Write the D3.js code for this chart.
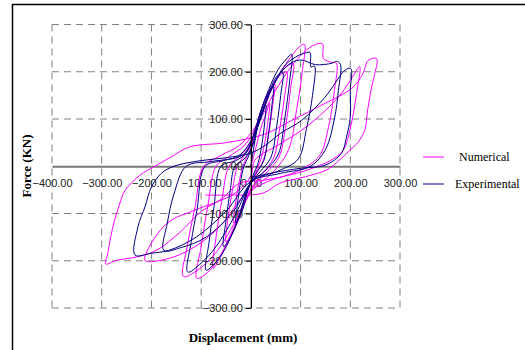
<!DOCTYPE html>
<html>
<head>
<meta charset="utf-8">
<script src="https://cdn.jsdelivr.net/npm/d3@7"></script>
<style>
  body { margin: 0; background: #fff; }
  svg { display: block; }
</style>
</head>
<body>
<div id="chart"></div>
<script>
// tick values
const xTicks = [-400, -300, -200, -100, 0, 100, 200, 300];
const yTicks = [-300, -200, -100, 0, 100, 200, 300];

// series: [displacement (mm), force (KN)]
const numerical = [
  [0, 0], [8, 30], [20, 80], [30, 110], [38, 133],
  [35, 100], [28, 50], [18, 8], [6, -20], [-6, -50], [-18, -85], [-35, -120],
  [-31, -80], [-24, -35], [-16, 0],
  [-6, 25], [5, 55], [18, 110], [32, 150], [48, 175],
  [44, 130], [36, 70], [26, 15], [10, -18], [-4, -45], [-18, -95], [-32, -130], [-50, -160],
  [-46, -110], [-37, -50], [-27, 0],
  [-12, 25], [2, 50], [18, 110], [38, 160], [56, 190], [72, 199],
  [68, 150], [58, 80], [46, 18], [24, -15], [0, -48], [-22, -105], [-48, -165], [-76, -216],
  [-70, -150], [-58, -70], [-44, 0],
  [-22, 22], [-3, 45], [18, 100], [42, 165], [66, 205], [85, 217],
  [80, 165], [70, 85], [57, 20], [30, -15], [2, -48], [-28, -115], [-62, -190], [-88, -226], [-109, -237],
  [-100, -170], [-86, -80], [-70, 0],
  [-42, 22], [-12, 45], [14, 90], [45, 170], [78, 228], [100, 255], [108, 258],
  [104, 205], [92, 120], [76, 35], [45, -12], [5, -48], [-30, -115], [-72, -185], [-110, -222], [-136, -233],
  [-128, -170], [-112, -85], [-95, 0],
  [-62, 22], [-22, 45], [12, 88], [55, 170], [98, 232], [128, 257], [144, 259], [146, 228], [162, 220], [172, 218],
  [168, 160], [156, 82], [138, 22], [95, -10], [35, -32], [-12, -60], [-60, -125], [-112, -170], [-165, -195], [-213, -199],
  [-187, -142], [-160, -114], [-113, -93], [-32, -57], [0, -20], [8, 13], [55, 45], [102, 76], [150, 118], [182, 154], [205, 190], [219, 211],
  [212, 150], [200, 80], [186, 34], [160, 12], [139, 2], [92, -15], [24, -30], [-22, -36],
  [-60, -70], [-99, -95], [-143, -140], [-190, -178], [-230, -192], [-270, -199], [-292, -207],
  [-288, -185], [-282, -150], [-274, -114], [-264, -80], [-253, -51], [-223, -19], [-193, 0],
  [-160, 20], [-123, 41], [-49, 50], [28, 68], [82, 97], [149, 133], [203, 165], [225, 195], [236, 224], [253, 228],
  [248, 190], [243, 168], [235, 120], [229, 76], [215, 50], [199, 34], [175, 10], [152, -8], [110, -22], [58, -36], [24, -57], [-42, -61], [-92, -61]
];

const experimental = [
  [0, 0], [6, 40], [14, 85], [22, 115], [30, 130],
  [28, 95], [22, 45], [14, 5], [4, -20], [-6, -50], [-16, -90], [-30, -120],
  [-27, -80], [-21, -35], [-14, 0],
  [-5, 20], [6, 55], [18, 110], [32, 150], [45, 170],
  [42, 125], [35, 65], [26, 12], [10, -15], [-6, -45], [-22, -100], [-38, -145], [-55, -170],
  [-50, -115], [-42, -55], [-32, 0],
  [-14, 15], [2, 40], [18, 100], [38, 160], [52, 190], [64, 199],
  [60, 150], [52, 85], [40, 18], [18, -12], [-2, -40], [-25, -110], [-52, -175], [-72, -205], [-90, -220],
  [-84, -160], [-74, -85], [-60, 0],
  [-30, 12], [-8, 30], [12, 90], [35, 160], [55, 205], [70, 225], [82, 237],
  [78, 180], [68, 100], [55, 25], [28, -10], [0, -35], [-30, -100], [-70, -170], [-100, -205], [-127, -224],
  [-120, -160], [-108, -90], [-92, 0],
  [-55, 12], [-15, 25], [10, 75], [40, 160], [70, 215], [95, 234], [110, 240], [119, 241], [121, 210], [128, 212],
  [124, 150], [112, 80], [95, 15], [55, -10], [5, -30], [-35, -95], [-90, -150], [-140, -172], [-175, -178],
  [-168, -120], [-155, -60], [-130, 0],
  [-80, 10], [-25, 22], [8, 70], [40, 160], [72, 212], [100, 225], [130, 215], [163, 218], [172, 222], [180, 216],
  [176, 160], [168, 100], [150, 35], [120, 0], [60, -15], [0, -32], [-50, -95], [-110, -150], [-165, -178], [-200, -184], [-233, -188],
  [-227, -128], [-213, -86], [-200, -44], [-180, -15], [-155, 0],
  [-100, 12], [-50, 18], [0, 28], [30, 45], [60, 70], [102, 97], [149, 146], [169, 175], [189, 203], [201, 207],
  [200, 160], [200, 104], [192, 60], [182, 27], [149, 2], [102, -4], [38, -15], [-2, -25]
];

const legendNames = ["Numerical", "Experimental"];
const colors = ["#ff00ff", "#000080"];

const W = 525, H = 350;
const svg = d3.select("#chart").append("svg")
  .attr("width", W).attr("height", H)
  .style("background", "#fff");

const xScale = d3.scaleLinear().domain([-400, 300]).range([52, 400]);
const yScale = d3.scaleLinear().domain([-300, 300]).range([308, 24.5]);

// outer frame (cut off on right and bottom like the source)
svg.append("path")
  .attr("d", `M12.5,${H}V4.5H${W}`)
  .attr("fill", "none").attr("stroke", "#000").attr("stroke-width", 1.5);

// dashed grid
const grid = svg.append("g").attr("stroke", "#808080").attr("stroke-width", 1)
  .attr("stroke-dasharray", "7,5");
grid.selectAll(".gx").data(xTicks.filter(d => d !== 0)).join("line")
  .attr("x1", d => xScale(d)).attr("x2", d => xScale(d))
  .attr("y1", yScale(300)).attr("y2", yScale(-300));
grid.selectAll(".gy").data(yTicks.filter(d => d !== 0)).join("line")
  .attr("y1", d => yScale(d)).attr("y2", d => yScale(d))
  .attr("x1", xScale(-400)).attr("x2", xScale(300));

// x axis through zero
const xAxis = svg.append("g")
  .attr("transform", `translate(0,${yScale(0)})`)
  .call(d3.axisBottom(xScale).tickValues(xTicks).tickFormat(d3.format(".2f"))
    .tickSize(0).tickPadding(13).tickSizeOuter(0));
xAxis.select(".domain").attr("stroke", "#777").attr("stroke-width", 2);
xAxis.selectAll("text").attr("font-family", "Liberation Sans, Arial, sans-serif")
  .attr("font-size", 11).attr("fill", "#222");

// curves (smoothed a little, like the source plot)
const line = d3.line()
  .x(d => xScale(d[0])).y(d => yScale(d[1]))
  .curve(d3.curveCatmullRom.alpha(0.5));
[numerical, experimental].forEach((s, i) => {
  svg.append("path").datum(s)
    .attr("d", line)
    .attr("fill", "none")
    .attr("stroke", colors[i])
    .attr("stroke-width", 1)
    .attr("stroke-linejoin", "round");
});

// y axis through zero
const yAxis = svg.append("g")
  .attr("transform", `translate(${xScale(0)},0)`)
  .call(d3.axisLeft(yScale).tickValues(yTicks).tickFormat(d3.format(".2f"))
    .tickSize(5).tickPadding(3).tickSizeOuter(0));
yAxis.select(".domain").attr("stroke", "#000").attr("stroke-width", 1.3);
yAxis.selectAll(".tick line").attr("stroke", "#000");
yAxis.selectAll("text").attr("font-family", "Liberation Sans, Arial, sans-serif")
  .attr("font-size", 11).attr("fill", "#222");

// axis titles
svg.append("text")
  .attr("x", 243).attr("y", 342)
  .attr("text-anchor", "middle")
  .attr("font-family", "Liberation Serif, Times New Roman, serif")
  .attr("font-weight", "bold").attr("font-size", 13)
  .text("Displacement (mm)");
svg.append("text")
  .attr("transform", "translate(31,166) rotate(-90)")
  .attr("text-anchor", "middle")
  .attr("font-family", "Liberation Serif, Times New Roman, serif")
  .attr("font-weight", "bold").attr("font-size", 13)
  .text("Force (KN)");

// legend
const legend = svg.append("g");
const legendY = [157, 184];
const legendTextX = [459, 455];
legendNames.forEach((name, i) => {
  legend.append("line")
    .attr("x1", 423).attr("x2", 444)
    .attr("y1", legendY[i]).attr("y2", legendY[i])
    .attr("stroke", colors[i]).attr("stroke-width", 1);
  legend.append("text")
    .attr("x", legendTextX[i]).attr("y", legendY[i] + 4)
    .attr("font-family", "Liberation Serif, Times New Roman, serif")
    .attr("font-size", 12).attr("fill", "#000")
    .text(name);
});
</script>
</body>
</html>
